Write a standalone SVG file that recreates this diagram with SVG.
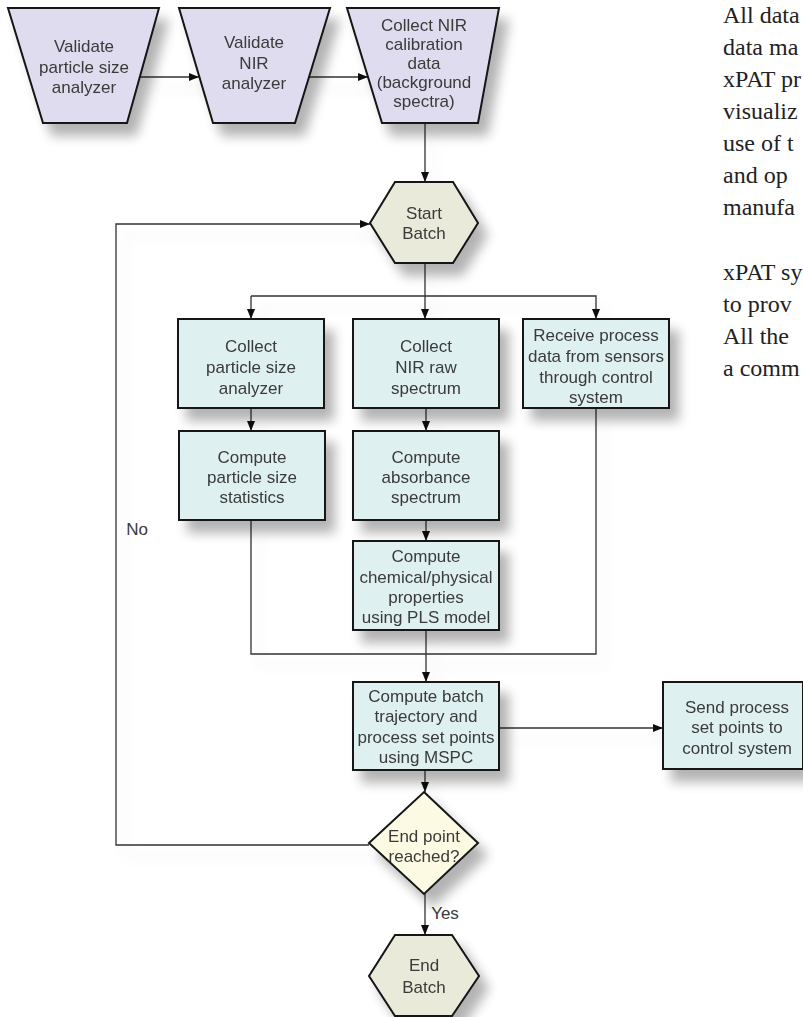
<svg xmlns="http://www.w3.org/2000/svg" width="803" height="1017" viewBox="0 0 803 1017">
  <defs>
    <style>
      .lbl { font-family: "Liberation Sans", Arial, sans-serif; font-size: 17px; fill: #3a3a3a; text-anchor: middle; }
      .side { font-family: "Liberation Serif", "Times New Roman", serif; font-size: 24px; fill: #222; }
      .edge { fill: none; stroke: #333; stroke-width: 1.3; }
      .trap { fill: #dedcee; stroke: #141414; stroke-width: 2; }
      .term { fill: #e9ead9; stroke: #141414; stroke-width: 2; }
      .proc { fill: #dff0f0; stroke: #141414; stroke-width: 2; }
      .dec  { fill: #fcfae2; stroke: #141414; stroke-width: 2; }
    </style>
    <marker id="arr" viewBox="0 0 10 8" refX="10" refY="4" markerWidth="10" markerHeight="8" markerUnits="userSpaceOnUse" orient="auto">
      <path d="M0,0 L10,4 L0,8 z" fill="#111"/>
    </marker>
    <filter id="shadow" x="-30%" y="-30%" width="170%" height="180%">
      <feGaussianBlur in="SourceAlpha" stdDeviation="6"/>
      <feOffset dx="9" dy="12"/>
      <feComponentTransfer result="sh">
        <feFuncA type="linear" slope="0.3"/>
      </feComponentTransfer>
      <feMerge>
        <feMergeNode in="sh"/>
        <feMergeNode in="SourceGraphic"/>
      </feMerge>
    </filter>
    <filter id="haze" x="-20%" y="-20%" width="140%" height="140%">
      <feGaussianBlur in="SourceAlpha" stdDeviation="7"/>
      <feOffset dx="8" dy="12"/>
      <feComponentTransfer result="sh">
        <feFuncA type="linear" slope="0.12"/>
      </feComponentTransfer>
      <feMerge>
        <feMergeNode in="sh"/>
        <feMergeNode in="SourceGraphic"/>
      </feMerge>
    </filter>
  </defs>

  <rect width="803" height="1017" fill="#ffffff"/>

  <!-- connectors -->
  <g id="connectors" filter="url(#haze)">
    <path class="edge" d="M140,77 H199" marker-end="url(#arr)"/>
    <path class="edge" d="M309,77 H368" marker-end="url(#arr)"/>
    <path class="edge" d="M425,123 V182" marker-end="url(#arr)"/>
    <path class="edge" d="M425,263 V319" marker-end="url(#arr)"/>
    <path class="edge" d="M251,296 H596 V319" marker-end="url(#arr)"/>
    <path class="edge" d="M251,296 V319" marker-end="url(#arr)"/>
    <path class="edge" d="M251,408 V431" marker-end="url(#arr)"/>
    <path class="edge" d="M426,408 V431" marker-end="url(#arr)"/>
    <path class="edge" d="M426,520 V541" marker-end="url(#arr)"/>
    <path class="edge" d="M251,520 V654 H596 V408"/>
    <path class="edge" d="M426,630 V682" marker-end="url(#arr)"/>
    <path class="edge" d="M499,728 H663" marker-end="url(#arr)"/>
    <path class="edge" d="M425,770 V792" marker-end="url(#arr)"/>
    <path class="edge" d="M425,894 V935" marker-end="url(#arr)"/>
    <path class="edge" d="M369,845 H116 V224 H370" marker-end="url(#arr)"/>
  </g>

  <!-- edge labels -->
  <text class="lbl" x="137" y="535">No</text>
  <text class="lbl" x="445" y="919">Yes</text>

  <!-- nodes -->
  <g id="validate-psa" filter="url(#shadow)">
    <polygon class="trap" points="8,8 159,8 127,123 43,123"/>
    <text class="lbl" x="84" y="52">Validate</text>
    <text class="lbl" x="84" y="73">particle size</text>
    <text class="lbl" x="84" y="93">analyzer</text>
  </g>

  <g id="validate-nir" filter="url(#shadow)">
    <polygon class="trap" points="179,8 330,8 295,123 213,123"/>
    <text class="lbl" x="254" y="48">Validate</text>
    <text class="lbl" x="254" y="69">NIR</text>
    <text class="lbl" x="254" y="89">analyzer</text>
  </g>

  <g id="collect-calibration" filter="url(#shadow)">
    <polygon class="trap" points="347,8 499,8 478,123 382,123"/>
    <text class="lbl" x="424" y="31">Collect NIR</text>
    <text class="lbl" x="424" y="50">calibration</text>
    <text class="lbl" x="424" y="69">data</text>
    <text class="lbl" x="424" y="88">(background</text>
    <text class="lbl" x="424" y="107">spectra)</text>
  </g>

  <g id="start-batch" filter="url(#shadow)">
    <polygon class="term" points="395,182 453,182 478,223 453,263 395,263 370,223"/>
    <text class="lbl" x="424" y="219">Start</text>
    <text class="lbl" x="424" y="239">Batch</text>
  </g>

  <g id="collect-psa" filter="url(#shadow)">
    <rect class="proc" x="178" y="319" width="146" height="89"/>
    <text class="lbl" x="251" y="352">Collect</text>
    <text class="lbl" x="251" y="373">particle size</text>
    <text class="lbl" x="251" y="394">analyzer</text>
  </g>

  <g id="collect-nir" filter="url(#shadow)">
    <rect class="proc" x="353" y="319" width="146" height="89"/>
    <text class="lbl" x="426" y="352">Collect</text>
    <text class="lbl" x="426" y="373">NIR raw</text>
    <text class="lbl" x="426" y="394">spectrum</text>
  </g>

  <g id="receive-process" filter="url(#shadow)">
    <rect class="proc" x="523" y="319" width="146" height="89"/>
    <text class="lbl" x="596" y="341">Receive process</text>
    <text class="lbl" x="596" y="362">data from sensors</text>
    <text class="lbl" x="596" y="383">through control</text>
    <text class="lbl" x="596" y="403">system</text>
  </g>

  <g id="psa-stats" filter="url(#shadow)">
    <rect class="proc" x="179" y="431" width="146" height="89"/>
    <text class="lbl" x="252" y="463">Compute</text>
    <text class="lbl" x="252" y="483">particle size</text>
    <text class="lbl" x="252" y="503">statistics</text>
  </g>

  <g id="absorbance" filter="url(#shadow)">
    <rect class="proc" x="353" y="431" width="146" height="89"/>
    <text class="lbl" x="426" y="463">Compute</text>
    <text class="lbl" x="426" y="483">absorbance</text>
    <text class="lbl" x="426" y="503">spectrum</text>
  </g>

  <g id="pls-model" filter="url(#shadow)">
    <rect class="proc" x="353" y="541" width="146" height="89"/>
    <text class="lbl" x="426" y="562">Compute</text>
    <text class="lbl" x="426" y="583">chemical/physical</text>
    <text class="lbl" x="426" y="603">properties</text>
    <text class="lbl" x="426" y="623">using PLS model</text>
  </g>

  <g id="mspc" filter="url(#shadow)">
    <rect class="proc" x="353" y="682" width="146" height="88"/>
    <text class="lbl" x="426" y="702">Compute batch</text>
    <text class="lbl" x="426" y="722">trajectory and</text>
    <text class="lbl" x="426" y="743">process set points</text>
    <text class="lbl" x="426" y="763">using MSPC</text>
  </g>

  <g id="send-setpoints" filter="url(#shadow)">
    <rect class="proc" x="663" y="682" width="140" height="87"/>
    <text class="lbl" x="737" y="713">Send process</text>
    <text class="lbl" x="737" y="733">set points to</text>
    <text class="lbl" x="737" y="754">control system</text>
  </g>

  <g id="end-point" filter="url(#shadow)">
    <polygon class="dec" points="424,792 478,843 424,894 369,843"/>
    <text class="lbl" x="424" y="842">End point</text>
    <text class="lbl" x="424" y="862">reached?</text>
  </g>

  <g id="end-batch" filter="url(#shadow)">
    <polygon class="term" points="395,935 452,935 479,976 452,1016 395,1016 369,976"/>
    <text class="lbl" x="424" y="971">End</text>
    <text class="lbl" x="424" y="993">Batch</text>
  </g>

  <!-- running text column at the right edge -->
  <g id="side-text">
    <text class="side" x="723" y="23">All data</text>
    <text class="side" x="723" y="55">data ma</text>
    <text class="side" x="723" y="87">xPAT pr</text>
    <text class="side" x="723" y="119">visualiz</text>
    <text class="side" x="723" y="151">use of t</text>
    <text class="side" x="723" y="183">and op</text>
    <text class="side" x="723" y="215">manufa</text>
    <text class="side" x="723" y="280">xPAT sy</text>
    <text class="side" x="723" y="312">to prov</text>
    <text class="side" x="723" y="344">All the</text>
    <text class="side" x="723" y="376">a comm</text>
  </g>
</svg>
